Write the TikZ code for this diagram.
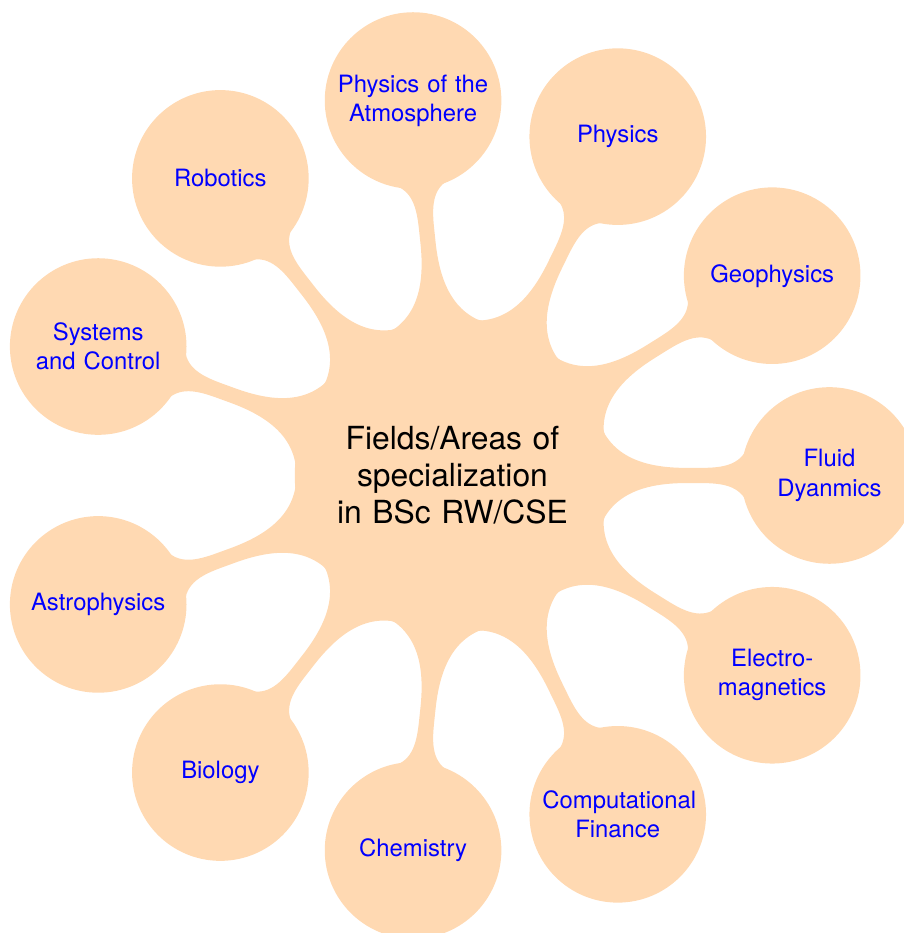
\documentclass[tikz,border=0pt]{standalone}
\usepackage{fontspec}
\setmainfont{TeX Gyre Heros}
\setsansfont{TeX Gyre Heros}
\usetikzlibrary{mindmap,trees}
\begin{document}
\begin{tikzpicture}[
  mindmap,
  concept color=orange!30,
  root concept/.append style={minimum size=4.14cm, text width=3.6cm, font=\large\sffamily, text=black},
  level 1 concept/.append style={minimum size=2.3cm, text width=2.0cm, inner sep=1pt, font=\small\sffamily, text=blue},
  level 1/.append style={level distance=5cm, sibling angle=32},
]
\useasboundingbox (-6.001,-6.068) rectangle (5.988,6.306);
\node[concept, root concept] (root) {Fields/Areas of\\specialization\\in BSc RW/CSE}
  [counterclockwise from=-160]
  child { node[concept] (astro) {Astrophysics} }
  child { node[concept] (bio) {Biology} }
  child { node[concept] (chem) {Chemistry} }
  child { node[concept] (fin) {Computational\\Finance} }
  child { node[concept] (em) {Electro-\\magnetics} }
  child { node[concept] (fluid) {Fluid\\Dyanmics} }
  child { node[concept] (geo) {Geophysics} }
  child { node[concept] (phys) {Physics} }
  child { node[concept] (atmo) {Physics of the\\Atmosphere} }
  child { node[concept] (rob) {Robotics} }
  child { node[concept] (sys) {Systems\\and Control} };
\end{tikzpicture}
\end{document}
